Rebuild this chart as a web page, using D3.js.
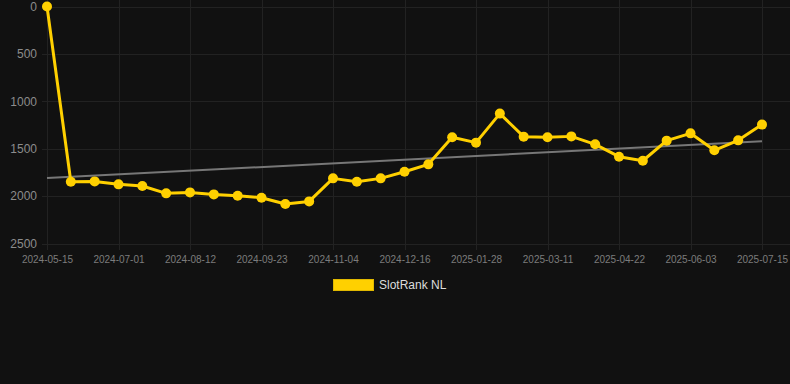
<!DOCTYPE html>
<html><head><meta charset="utf-8">
<script src="https://cdn.jsdelivr.net/npm/d3@7"></script>
<style>html,body{margin:0;padding:0;background:#111111;}svg{display:block;}</style>
</head><body><svg id="c" width="790" height="384"></svg>
<script>
const categories = ["2024-05-15","2024-06-03","2024-06-17","2024-07-01","2024-07-15","2024-07-29","2024-08-12","2024-08-26","2024-09-09","2024-09-23","2024-10-07","2024-10-21","2024-11-04","2024-11-18","2024-12-02","2024-12-16","2024-12-30","2025-01-14","2025-01-28","2025-02-11","2025-02-25","2025-03-11","2025-03-25","2025-04-08","2025-04-22","2025-05-06","2025-05-20","2025-06-03","2025-06-17","2025-07-01","2025-07-15"];
const rankValues = [0,1849,1845,1876,1894,1971,1961,1982,1996,2017,2084,2056,1813,1849,1813,1743,1665,1380,1436,1130,1373,1380,1370,1454,1584,1627,1415,1338,1517,1412,1246];
const xTickLabels = ["2024-05-15","2024-07-01","2024-08-12","2024-09-23","2024-11-04","2024-12-16","2025-01-28","2025-03-11","2025-04-22","2025-06-03","2025-07-15"];
const yTicks = [0,500,1000,1500,2000,2500];
const seriesName = "SlotRank NL";

const svg = d3.select("#c");
const gold = "#FFD000";
const x = d3.scalePoint().domain(categories).range([47, 762]);
const y = d3.scaleLinear().domain([0, 2500]).range([6.5, 243.5]);

// grid
const grid = svg.append("g").attr("stroke", "#222222").attr("stroke-width", 1);
yTicks.forEach(t => grid.append("line").attr("x1", 42).attr("x2", 790)
  .attr("y1", Math.round(y(t)) + 0.5).attr("y2", Math.round(y(t)) + 0.5));
xTickLabels.forEach(c => grid.append("line")
  .attr("x1", Math.round(x(c)) + 0.5).attr("x2", Math.round(x(c)) + 0.5)
  .attr("y1", 0).attr("y2", 250));

// y axis
const yAxis = d3.axisLeft(y).tickValues(yTicks).tickSize(0).tickPadding(0).tickFormat(d3.format("d"));
const gy = svg.append("g").attr("transform", "translate(37,0)").call(yAxis);
gy.select(".domain").remove();
gy.selectAll("text").attr("fill", "#8c8c8c").attr("font-family", "Arial, 'Liberation Sans', sans-serif").attr("font-size", 12);

// x axis
const xAxis = d3.axisBottom(x).tickValues(xTickLabels).tickSize(0).tickPadding(0);
const gx = svg.append("g").attr("transform", "translate(0,256)").call(xAxis);
gx.select(".domain").remove();
gx.selectAll("text").attr("fill", "#7c7c7c").attr("font-family", "Arial, 'Liberation Sans', sans-serif").attr("font-size", 10);

// trend line (least squares)
const n = rankValues.length;
const idx = d3.range(n);
const mx = d3.mean(idx), my = d3.mean(rankValues);
const slope = d3.sum(idx, i => (i - mx) * (rankValues[i] - my)) / d3.sum(idx, i => (i - mx) ** 2);
const icpt = my - slope * mx;
svg.append("line")
  .attr("x1", x(categories[0])).attr("y1", y(icpt))
  .attr("x2", x(categories[n - 1])).attr("y2", y(icpt + slope * (n - 1)))
  .attr("stroke", "#777777").attr("stroke-width", 2);

// series line
const line = d3.line().x((d, i) => x(categories[i])).y(d => y(d));
svg.append("path").datum(rankValues).attr("d", line)
  .attr("fill", "none").attr("stroke", gold).attr("stroke-width", 3).attr("stroke-linejoin", "round");
svg.append("g").selectAll("circle").data(rankValues).join("circle")
  .attr("cx", (d, i) => x(categories[i])).attr("cy", d => y(d)).attr("r", 5)
  .attr("fill", gold);

// legend
const lg = svg.append("g");
lg.append("rect").attr("x", 333.5).attr("y", 279.5).attr("width", 40).attr("height", 11)
  .attr("fill", gold).attr("stroke", "#e0b800").attr("stroke-width", 1);
lg.append("text").attr("x", 379).attr("y", 289).text(seriesName)
  .attr("fill", "#dddddd").attr("font-family", "Arial, 'Liberation Sans', sans-serif").attr("font-size", 12);
</script>
</body></html>
